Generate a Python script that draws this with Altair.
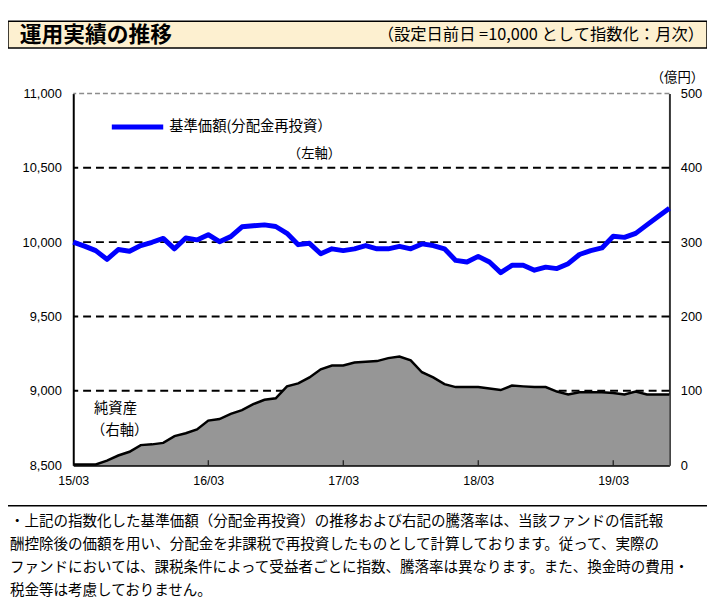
import altair as alt
import pandas as pd

# ---- data ----
tick_labels = ["15/03", "16/03", "17/03", "18/03", "19/03"]
tick_index = [0, 12, 24, 36, 48]

nav = [10000, 9973, 9943, 9884, 9950, 9939, 9977, 9999, 10025, 9955,
       10028, 10015, 10050, 10003, 10037, 10103, 10110, 10116, 10105, 10059,
       9983, 9992, 9922, 9955, 9943, 9955,
       9977, 9955, 9955, 9972, 9955, 9988, 9977, 9955, 9877, 9866,
       9904, 9866, 9795, 9844, 9844, 9811, 9832, 9822, 9855, 9917,
       9943, 9961, 10039, 10032, 10059, 10116, 10172, 10227]

net_assets = [1, 1, 1, 6, 13, 18, 27, 28, 30, 39,
              43, 48, 60, 62, 69, 74, 82, 88, 90, 106,
              110, 118, 129, 134, 134, 138,
              139, 140, 144, 146, 141, 125, 118, 109, 105, 105,
              105, 103, 101, 107, 106, 105, 105, 99, 95, 98,
              98, 98, 97, 95, 99, 95, 95, 95]

left_ticks = [8500, 9000, 9500, 10000, 10500, 11000]
right_ticks = [0, 100, 200, 300, 400, 500]
grid_levels = [9000, 9500, 10000, 10500]
top_level = [11000]

title_text = "運用実績の推移"
subtitle_text = "（設定日前日 =10,000 として指数化：月次）"
unit_text = "（億円）"
legend_nav = "基準価額(分配金再投資）"
legend_nav_axis = "（左軸）"
assets_label = ["純資産", "（右軸）"]
footer_lines = [
    "・上記の指数化した基準価額（分配金再投資）の推移および右記の騰落率は、当該ファンドの信託報",
    "酬控除後の価額を用い、分配金を非課税で再投資したものとして計算しております。従って、実際の",
    "ファンドにおいては、課税条件によって受益者ごとに指数、騰落率は異なります。また、換金時の費用・",
    "税金等は考慮しておりません。",
]

df = pd.DataFrame({"m": list(range(len(nav))), "nav": nav, "assets": net_assets})

W, H = 603, 376
JP = "Noto Sans CJK JP"
NUM = "Liberation Sans"

label_expr = "[" + ",".join("'%s'" % t for t in tick_labels) + "][round(datum.value/12)]"

x_enc = alt.X(
    "m:Q",
    scale=alt.Scale(domain=[0, len(nav) - 1], nice=False, zero=False),
    axis=alt.Axis(values=tick_index, labelExpr=label_expr, title=None, grid=False,
                  ticks=False, domainColor="black", domainWidth=2, labelFont=NUM,
                  labelFontSize=12.5, labelColor="black", labelPadding=10,
                  labelFlush=False),
)

left_scale = alt.Scale(domain=[8500, 11000], nice=False, zero=False)
right_scale = alt.Scale(domain=[0, 500], nice=False, zero=True)

one = alt.Data(values=[{"k": 1}])

grid = alt.Chart(pd.DataFrame({"level": grid_levels})).mark_rule(
    color="black", strokeWidth=2, strokeDash=[8, 5]
).encode(y=alt.Y("level:Q", scale=left_scale, axis=None))

top = alt.Chart(pd.DataFrame({"level": top_level})).mark_rule(
    color="#8c8c8c", strokeWidth=1.5, strokeDash=[5, 3]
).encode(y=alt.Y("level:Q", scale=left_scale, axis=None))

area = alt.Chart(df).mark_area(
    color="#969696", opacity=1, fillOpacity=1,
    line=alt.OverlayMarkDef(color="black", strokeWidth=2.5)
).encode(
    x=x_enc,
    y=alt.Y("assets:Q", scale=right_scale,
            axis=alt.Axis(orient="right", values=right_ticks, title=None, grid=False,
                          ticks=False, domainColor="#333333", domainWidth=2,
                          labelFont=NUM, labelFontSize=13, labelColor="black",
                          labelPadding=11)),
)

line = alt.Chart(df).mark_line(color="#0000FF", strokeWidth=5, strokeJoin="round").encode(
    x=x_enc,
    y=alt.Y("nav:Q", scale=left_scale,
            axis=alt.Axis(orient="left", values=left_ticks,
                          labelExpr="format(datum.value, ',.0f')", title=None,
                          grid=False, ticks=False, domainColor="black", domainWidth=2,
                          labelFont=NUM, labelFontSize=13, labelColor="black",
                          labelPadding=12)),
)

year_ticks = alt.Chart(pd.DataFrame({"m": tick_index[1:]})).mark_rule(
    color="black", strokeWidth=1
).encode(x=x_enc, y=alt.value(H), y2=alt.value(H - 5))

legend_line = alt.Chart(one).mark_rule(color="#0000FF", strokeWidth=5).encode(
    x=alt.value(39), x2=alt.value(91), y=alt.value(34))


def txt(s, x, y, size, align="left", bold=False, font=JP):
    return alt.Chart(one).mark_text(
        text=s, align=align, baseline="middle", font=font, fontSize=size,
        fontWeight="bold" if bold else "normal", color="black"
    ).encode(x=alt.value(x), y=alt.value(y))


header_rect = alt.Chart(one).mark_rect(
    color="#FDF0D0", stroke="black", strokeWidth=1.5
).encode(x=alt.value(-66), x2=alt.value(641), y=alt.value(-73), y2=alt.value(-46))

footer_rule = alt.Chart(one).mark_rule(color="black", strokeWidth=1.5).encode(
    x=alt.value(-66), x2=alt.value(641), y=alt.value(417))

texts = [
    txt(title_text, -54, -59, 22, bold=True),
    txt(subtitle_text, 638, -59, 16.5, align="right"),
    txt(unit_text, 638, -16, 13.5, align="right"),
    txt(legend_nav, 97, 34, 14.5),
    txt(legend_nav_axis, 244, 61, 13.5, align="center"),
    txt(assets_label[0], 21, 319, 14.5),
    txt(assets_label[1], 18, 341, 14.5),
]
for i, s in enumerate(footer_lines):
    texts.append(txt(s, -64, 434 + 23 * i, 14.7))

chart = alt.layer(
    header_rect, footer_rule, grid, top, area, line, year_ticks, legend_line, *texts
).resolve_scale(y="independent").properties(
    width=W, height=H,
    padding={"left": 66, "top": 83, "right": 38, "bottom": 136},
    autosize=alt.AutoSizeParams(type="none"),
    background="white",
).configure_view(stroke=None)

chart.save("out.html", embed_options={"renderer": "svg", "actions": False})
